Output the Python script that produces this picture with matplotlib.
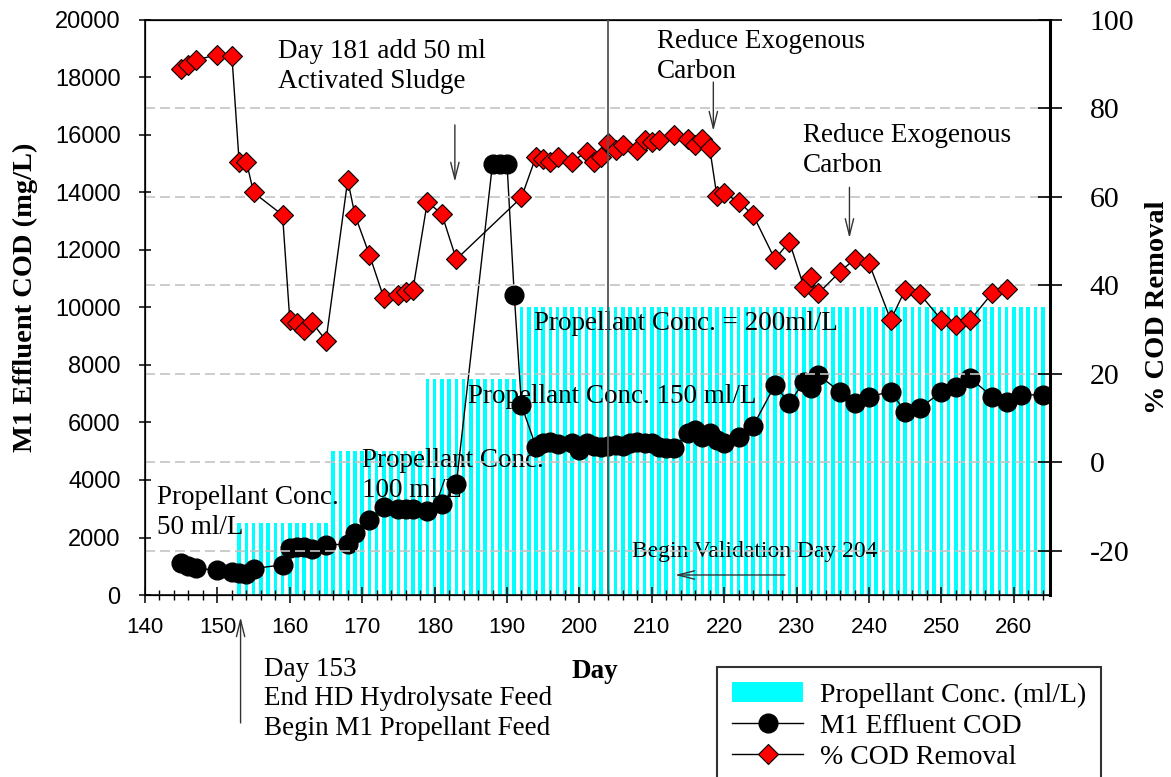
import matplotlib
matplotlib.use("Agg")
import matplotlib.pyplot as plt
from matplotlib.ticker import MultipleLocator

plt.rcParams["axes.unicode_minus"] = False

# ---------------- data ----------------
cod_days = [145, 146, 147, 150, 152, 153, 154, 155, 159, 160, 161, 162, 163, 165,
            168, 169, 171, 173, 175, 176, 177, 179, 181, 183, 188, 189, 190, 191,
            192, 194, 195, 196, 197, 199, 200, 201, 202, 203, 204, 205, 206, 207,
            208, 209, 210, 211, 212, 213, 215, 216, 217, 218, 219, 220, 222, 224,
            227, 229, 231, 232, 233, 236, 238, 240, 243, 245, 247, 250, 252, 254,
            257, 259, 261, 264]
cod_vals = [1100, 1000, 930, 860, 800, 780, 720, 920, 1050, 1620, 1680, 1680, 1600, 1740,
            1770, 2150, 2600, 3050, 3000, 2980, 3000, 2920, 3150, 3850, 15000, 15000, 15000, 10450,
            6600, 5160, 5280, 5330, 5250, 5280, 5040, 5300, 5200, 5160, 5200, 5220, 5200, 5280,
            5330, 5300, 5280, 5160, 5100, 5100, 5620, 5740, 5500, 5620, 5400, 5280, 5500, 5880,
            7300, 6670, 7420, 7190, 7650, 7070, 6670, 6900, 7070, 6380, 6490, 7070, 7250, 7540,
            6900, 6720, 6960, 6960]

rem_days = [145, 146, 147, 150, 152, 153, 154, 155, 159, 160, 161, 162, 163, 165,
            168, 169, 171, 173, 175, 176, 177, 179, 181, 183, 192, 194, 195, 196,
            197, 199, 201, 202, 203, 204, 205, 206, 208, 209, 210, 211, 213, 215,
            216, 217, 218, 219, 220, 222, 224, 227, 229, 231, 232, 233, 236, 238,
            240, 243, 245, 247, 250, 252, 254, 257, 259]
rem_vals = [88.9, 89.8, 91.0, 92.1, 91.9, 68.0, 68.0, 61.0, 55.9, 32.2, 31.4, 29.9, 31.8, 27.5,
            63.8, 55.9, 46.9, 37.1, 37.8, 38.6, 39.0, 58.9, 56.1, 45.9, 59.9, 69.1, 68.5, 68.0,
            69.0, 68.0, 70.2, 68.0, 69.1, 72.1, 70.6, 71.7, 70.6, 72.9, 72.5, 72.9, 74.0, 73.2,
            71.7, 73.2, 71.0, 60.1, 60.8, 58.9, 55.9, 45.9, 49.9, 39.7, 42.0, 38.2, 43.1, 45.9,
            45.0, 32.2, 39.0, 38.1, 32.2, 31.0, 32.2, 38.2, 39.1]

# propellant concentration steps (ml/L), fed daily
conc_levels = [50, 100, 150, 200]
conc_first_day = [153, 166, 179, 192]
conc_last_day = [165, 178, 191, 264]

bar_days, bar_vals = [], []
for lev, d0, d1 in zip(conc_levels, conc_first_day, conc_last_day):
    for d in range(d0, d1 + 1):
        bar_days.append(d)
        bar_vals.append(lev)

x_ticks = list(range(140, 261, 10))
cod_ticks = list(range(0, 20001, 2000))
rem_ticks = [-20, 0, 20, 40, 60, 80, 100]

# ---------------- styling ----------------
SERIF = ["Liberation Serif", "DejaVu Serif"]
SANS = ["Liberation Sans", "DejaVu Sans"]
ANN = 19.5

W, H = 1171, 777
fig = plt.figure(figsize=(W / 100, H / 100), dpi=100)
rect = [145 / W, 1 - 595 / H, 905 / W, 575 / H]

ax_bar = fig.add_axes(rect)
bars = ax_bar.bar(bar_days, bar_vals, width=0.5, color="#00FFFF", linewidth=0,
                  zorder=1, label="Propellant Conc. (ml/L)")
ax_bar.set_ylim(0, 400)
ax_bar.set_yticks([])
ax_bar.set_xlim(140, 265)
ax_bar.set_xticks(x_ticks)
ax_bar.xaxis.set_minor_locator(MultipleLocator(2))
ax_bar.tick_params(axis="x", which="major", direction="inout", length=12, width=1.1, pad=10)
ax_bar.tick_params(axis="x", which="minor", direction="inout", length=7, width=1.0)
for lab in ax_bar.get_xticklabels():
    lab.set_fontfamily(SANS)
    lab.set_fontsize(16)
for s in ax_bar.spines.values():
    s.set_linewidth(1.3)
    s.set_color("#222222")

# COD axis (left)
ax = ax_bar.twinx()
ax.yaxis.tick_left()
ax.yaxis.set_label_position("left")
ax.set_ylim(0, 20000)
ax.set_yticks(cod_ticks)
ax.tick_params(axis="y", direction="inout", length=9, width=1.1, pad=13)
for lab in ax.get_yticklabels():
    lab.set_fontfamily(SANS)
    lab.set_fontsize(17)
line_cod, = ax.plot(cod_days, cod_vals, "-o", color="black", lw=1.0, ms=13.5,
                    mfc="black", mec="black", zorder=3, label="M1 Effluent COD")

# % removal axis (right)
ax2 = ax_bar.twinx()
ax2.set_ylim(-30, 100)
ax2.set_yticks(rem_ticks)
ax2.tick_params(axis="y", direction="inout", length=17, width=1.2, pad=20)
for lab in ax2.get_yticklabels():
    lab.set_fontfamily(SERIF)
    lab.set_fontsize(21.5)
ax2.spines["right"].set_linewidth(2.2)
ax2.set_axisbelow(True)
ax2.grid(axis="y", color="#c4c4c4", linestyle=(0, (6, 3)), linewidth=1.2)
line_rem, = ax2.plot(rem_days, rem_vals, "-D", color="black", lw=1.0, ms=10.5,
                     mfc="red", mec="black", mew=0.8, zorder=3, label="% COD Removal")
ax2.axvline(204, color="#555555", lw=1.3, zorder=6)

# ---------------- annotations ----------------
# y of each text block is the baseline of its last line
def txt(x, y, s, size=ANN):
    ax.text(x, y, s, fontsize=size, family=SERIF, ha="left", va="baseline",
            linespacing=1.25, zorder=7, clip_on=False)

arrow_kw = dict(arrowstyle="->,head_length=1.2,head_width=0.3", color="#333333",
                lw=1.0, shrinkA=0, shrinkB=0, mutation_scale=10)

def arrow(x0, y0, x1, y1):
    ax.annotate("", xy=(x1, y1), xytext=(x0, y0), arrowprops=arrow_kw,
                annotation_clip=False, zorder=7)

txt(158.4, 17630, "Day 181 add 50 ml\nActivated Sludge")
arrow(182.8, 16350, 182.8, 14370)

txt(210.7, 17980, "Reduce Exogenous\nCarbon")
arrow(218.5, 17840, 218.5, 16140)

txt(230.9, 14720, "Reduce Exogenous\nCarbon")
arrow(237.3, 14180, 237.3, 12410)

txt(193.7, 9220, "Propellant Conc. = 200ml/L")
txt(184.6, 6680, "Propellant Conc. 150 ml/L")
txt(170.0, 3420, "Propellant Conc.\n100 ml/L")
txt(141.7, 2120, "Propellant Conc.\n50 ml/L")

txt(207.3, 1320, "Begin Validation Day 204", size=17)
arrow(228.4, 696, 213.2, 696)

txt(156.4, -4870, "Day 153\nEnd HD Hydrolysate Feed\nBegin M1 Propellant Feed")
arrow(153.2, -4450, 153.2, -770)

# axis titles
fig.text(595 / W, 1 - 678 / H, "Day", fontsize=19.5, family=SERIF, weight="bold",
         ha="center", va="baseline")
fig.text(25 / W, 1 - 297 / H, "M1 Effluent COD (mg/L)", fontsize=20.5, family=SERIF,
         weight="bold", rotation=90, ha="center", va="center")
fig.text(1157 / W, 1 - 307 / H, "% COD Removal", fontsize=20.5, family=SERIF,
         weight="bold", rotation=90, ha="center", va="center")

# legend
leg = fig.legend([bars, line_cod, line_rem],
                 ["Propellant Conc. (ml/L)", "M1 Effluent COD", "% COD Removal"],
                 loc="upper left", bbox_to_anchor=(717 / W, 1 - 667 / H),
                 bbox_transform=fig.transFigure, borderaxespad=0,
                 prop={"family": SERIF, "size": 20}, frameon=True, fancybox=False,
                 framealpha=1, edgecolor="#333333", handlelength=2.55,
                 handletextpad=0.6, labelspacing=0.2, borderpad=0.55)
leg.get_frame().set_linewidth(1.5)

fig.savefig("out.png", dpi=100)
